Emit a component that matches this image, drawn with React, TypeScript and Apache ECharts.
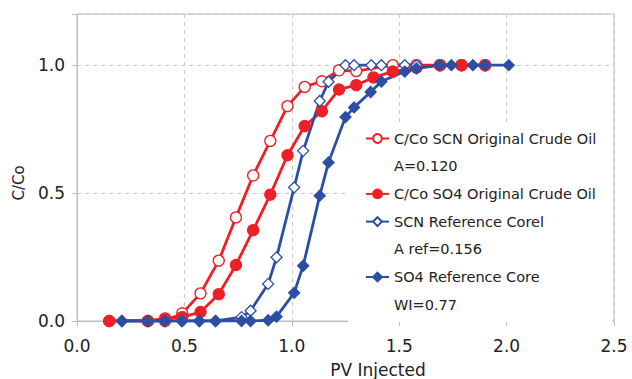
import React, { useEffect, useRef } from "react";
import * as echarts from "echarts";

// PV injected values and C/Co readings
const scnOrigX = [0.15, 0.33, 0.41, 0.49, 0.575, 0.66, 0.74, 0.82, 0.9, 0.98, 1.06, 1.14, 1.22, 1.3, 1.47, 1.58, 1.69, 1.79, 1.9];
const scnOrigY = [0, 0, 0, 0.03, 0.108, 0.236, 0.405, 0.569, 0.704, 0.84, 0.915, 0.937, 0.98, 0.977, 1.0, 1.0, 1.0, 1.0, 1.0];

const so4OrigX = [0.15, 0.33, 0.41, 0.49, 0.575, 0.66, 0.74, 0.82, 0.9, 0.98, 1.06, 1.14, 1.22, 1.3, 1.38, 1.47, 1.58, 1.69, 1.79, 1.9];
const so4OrigY = [0, 0, 0.01, 0.015, 0.035, 0.105, 0.219, 0.355, 0.494, 0.648, 0.762, 0.82, 0.905, 0.922, 0.952, 0.975, 0.99, 1.0, 1.0, 1.0];

const scnRefX = [0.21, 0.33, 0.41, 0.49, 0.57, 0.645, 0.766, 0.808, 0.89, 0.929, 1.011, 1.053, 1.13, 1.171, 1.25, 1.29, 1.37, 1.417, 1.526, 1.58];
const scnRefY = [0, 0, 0, 0, 0, 0, 0.015, 0.04, 0.145, 0.249, 0.522, 0.665, 0.86, 0.935, 1.0, 1.0, 1.0, 1.0, 1.0, 1.0];

const so4RefX = [0.208, 0.327, 0.408, 0.487, 0.569, 0.645, 0.766, 0.808, 0.89, 0.929, 1.011, 1.053, 1.13, 1.171, 1.25, 1.29, 1.367, 1.417, 1.526, 1.58, 1.688, 1.743, 1.843, 1.9, 2.01];
const so4RefY = [0, 0, 0, 0, 0, 0, 0, 0, 0.003, 0.017, 0.11, 0.216, 0.49, 0.62, 0.797, 0.835, 0.895, 0.936, 0.975, 0.987, 1.0, 1.0, 1.0, 1.0, 1.0];

const legendOrder = [
  "C/Co SCN Original Crude Oil",
  "A=0.120",
  "C/Co SO4 Original Crude Oil",
  "SCN Reference Corel",
  "A ref=0.156",
  "SO4 Reference Core",
  "WI=0.77",
];

const xTicks = { min: 0, max: 2.5, interval: 0.5 };
const yTicks = { min: 0, max: 1.2, interval: 0.5 };

const RED = "#EE2027";
const BLUE = "#2C4EA3";
const FONT = "DejaVu Sans";

const zip = (xs: number[], ys: number[]) => xs.map((x, i) => [x, ys[i]]);

export default function App() {
  const ref = useRef<HTMLDivElement>(null);
  useEffect(() => {
    if (!ref.current) return;
    const chart = echarts.init(ref.current, undefined, { renderer: "svg" });
    const lineSeries = (
      name: string,
      data: number[][],
      color: string,
      symbol: string,
      hollow: boolean,
      size: number
    ) => ({
      type: "line",
      name,
      data,
      symbol,
      symbolSize: size,
      showSymbol: true,
      lineStyle: { color, width: 2.8 },
      itemStyle: { color: hollow ? "#ffffff" : color, borderColor: color, borderWidth: 1.3 },
      emphasis: { disabled: true },
      z: 3,
    });
    const dummy = (name: string) => ({
      type: "line",
      name,
      data: [],
      symbol: "none",
      lineStyle: { opacity: 0, width: 0 },
      itemStyle: { opacity: 0 },
    });
    chart.setOption({
      animation: false,
      grid: {
        left: 77,
        right: 18,
        top: 14,
        bottom: 58,
        show: true,
        borderColor: "#bdbdbd",
        borderWidth: 1,
      },
      xAxis: {
        type: "value",
        min: xTicks.min,
        max: xTicks.max,
        interval: xTicks.interval,
        axisLine: { show: true, lineStyle: { color: "#bdbdbd", width: 1 } },
        axisTick: { show: true, length: 5, lineStyle: { color: "#bdbdbd" } },
        axisLabel: {
          formatter: (v: number) => v.toFixed(1),
          fontSize: 17,
          fontFamily: FONT,
          color: "#222",
          margin: 16,
        },
        splitLine: { show: true, lineStyle: { color: "#c8c8c8", type: [4, 4], width: 1 } },
      },
      yAxis: {
        type: "value",
        min: yTicks.min,
        max: yTicks.max,
        interval: yTicks.interval,
        axisLine: { show: true, lineStyle: { color: "#bdbdbd", width: 1 } },
        axisTick: { show: true, length: 5, lineStyle: { color: "#bdbdbd" } },
        axisLabel: {
          formatter: (v: number) =>
            Math.abs(v / 0.5 - Math.round(v / 0.5)) < 1e-6 ? v.toFixed(1) : "",
          fontSize: 17,
          fontFamily: FONT,
          color: "#222",
          margin: 12,
        },
        splitLine: { show: true, lineStyle: { color: "#c8c8c8", type: [4, 4], width: 1 } },
      },
      legend: {
        data: legendOrder,
        orient: "vertical",
        left: 348,
        top: 123,
        padding: [8, 16, 10, 17],
        itemWidth: 23,
        itemHeight: 11,
        itemGap: 12.7,
        backgroundColor: "#ffffff",
        selectedMode: false,
        textStyle: { fontSize: 14.5, fontFamily: FONT, color: "#222" },
      },
      graphic: [
        {
          type: "text",
          x: 19,
          y: 183,
          rotation: Math.PI / 2,
          style: {
            text: "C/Co",
            fontSize: 15,
            fontFamily: FONT,
            fill: "#222",
            align: "center",
            verticalAlign: "middle",
          },
        },
        {
          type: "text",
          x: 378,
          y: 370,
          style: {
            text: "PV Injected",
            fontSize: 17,
            fontFamily: FONT,
            fill: "#222",
            align: "center",
            verticalAlign: "middle",
          },
        },
      ],
      series: [
        lineSeries(legendOrder[0], zip(scnOrigX, scnOrigY), RED, "circle", true, 11),
        dummy(legendOrder[1]),
        lineSeries(legendOrder[2], zip(so4OrigX, so4OrigY), RED, "circle", false, 11),
        lineSeries(legendOrder[3], zip(scnRefX, scnRefY), BLUE, "diamond", true, 11),
        dummy(legendOrder[4]),
        lineSeries(legendOrder[5], zip(so4RefX, so4RefY), BLUE, "diamond", false, 11),
        dummy(legendOrder[6]),
      ],
    });
    return () => chart.dispose();
  }, []);
  return <div ref={ref} style={{ width: 632, height: 379, position: "absolute", left: 0, top: 0 }} />;
}
